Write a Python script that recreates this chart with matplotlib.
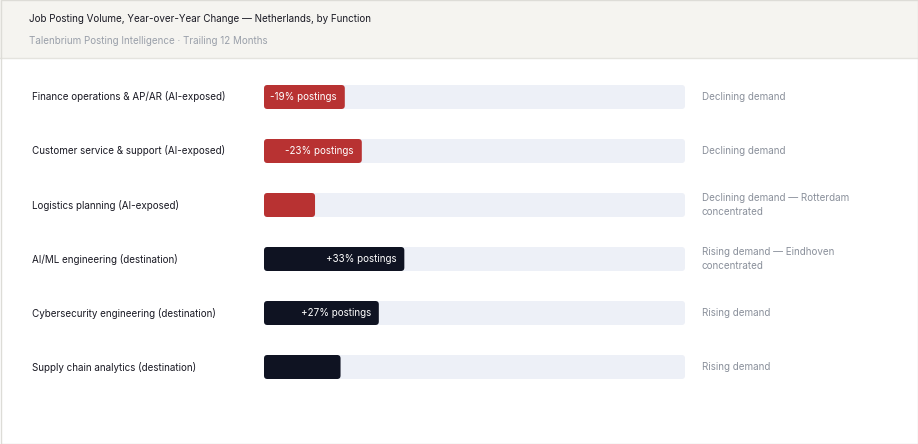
import matplotlib
matplotlib.use("Agg")
import matplotlib.pyplot as plt
from matplotlib.patches import FancyBboxPatch, Rectangle

categories = ["Finance operations & AP/AR (AI-exposed)",
              "Customer service & support (AI-exposed)",
              "Logistics planning (AI-exposed)",
              "AI/ML engineering (destination)",
              "Cybersecurity engineering (destination)",
              "Supply chain analytics (destination)"]
values = [-19, -23, -12, 33, 27, 18]
bar_labels = ["-19% postings", "-23% postings", "", "+33% postings", "+27% postings", ""]
notes = ["Declining demand", "Declining demand",
         "Declining demand \u2014 Rotterdam\nconcentrated",
         "Rising demand \u2014 Eindhoven\nconcentrated",
         "Rising demand", "Rising demand"]
track_max = 99

plt.rcParams['font.family'] = ['Inter', 'DejaVu Sans']
W, H = 918, 444
fs = 7.1
fig = plt.figure(figsize=(W/100, H/100), dpi=100)
fig.patch.set_facecolor("white")

fig.patches.append(Rectangle((0, 1-58/H), 1, 58/H, transform=fig.transFigure,
                             facecolor="#f5f4f0", edgecolor="none", zorder=0))
fig.lines.append(plt.Line2D([0, 1], [1-58/H]*2, transform=fig.transFigure, color="#e4e3de", lw=1))
fig.patches.append(Rectangle((0.5/W, 0.5/H), 1-1/W, 1-1/H, transform=fig.transFigure,
                             facecolor="none", edgecolor="#dddcd7", lw=1, zorder=5))
fig.text(29/W, 1-19/H, "Job Posting Volume, Year-over-Year Change \u2014 Netherlands, by Function",
         fontsize=fs, color="#1a1a24", va="center")
fig.text(29/W, 1-41/H, "Talenbrium Posting Intelligence \u00b7 Trailing 12 Months",
         fontsize=fs, color="#9aa0aa", va="center")

x0, x1 = 264, 685
ax = fig.add_axes([x0/W, 1-394/H, (x1-x0)/W, 324/H])
ax.set_xlim(0, track_max)
ax.set_ylim(5.5, -0.5)
ax.axis("off")
pxx = (x1-x0)/track_max
bh = 24/54
asp = pxx/54
for i, (c, v, bl, n) in enumerate(zip(categories, values, bar_labels, notes)):
    ax.add_patch(FancyBboxPatch((0, i-bh/2), track_max, bh,
                                boxstyle="round,pad=0,rounding_size=0.8", mutation_aspect=asp,
                                facecolor="#edf0f7", edgecolor="none"))
    col = "#b83232" if v < 0 else "#0f1322"
    ax.add_patch(FancyBboxPatch((0, i-bh/2), abs(v), bh,
                                boxstyle="round,pad=0,rounding_size=0.8", mutation_aspect=asp,
                                facecolor=col, edgecolor="none"))
    if bl:
        ax.text(abs(v)-8/pxx, i, bl, ha="right", va="center", color="white", fontsize=fs)
    fig.text(32/W, 1-(97+54*i)/H, c, fontsize=fs, color="#1a1a24", va="center")
    fig.text(702/W, 1-(97+54*i)/H, n, fontsize=fs, color="#8a909b", va="center", linespacing=1.4)

fig.savefig("out.png", dpi=100)
